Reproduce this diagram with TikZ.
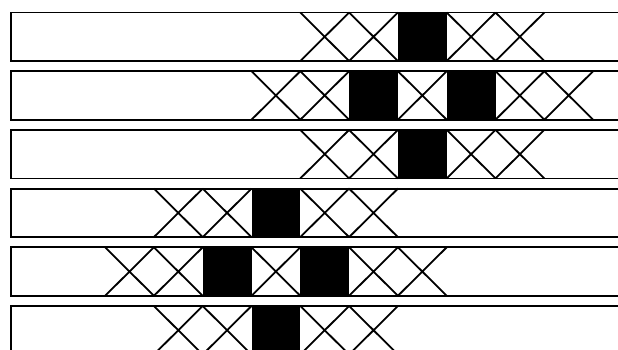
\documentclass[tikz,border=0pt]{standalone}

\tikzset{
  bar/.style={draw=black,line width=1.8pt},
  xcross/.style={draw=black,line width=1.8pt},
  blackcell/.style={fill=black}
}

\begin{document}
\begin{tikzpicture}[x=1pt,y=-1pt,line join=miter]
  \useasboundingbox (0,0) rectangle (618,349);
  \clip (0,0) rectangle (618,349);
  % cell 48.8 wide, bars 48.5 high and 58.7 apart
  \foreach \r/\c in {0/8,1/7,1/9,2/8,3/5,4/4,4/6,5/5}
    \fill[blackcell] (7.5+48.8*\c,12.5+58.7*\r) rectangle ++(48.8,48.5);

  \foreach \r/\c in {0/6,0/7,0/9,0/10,
                     1/5,1/6,1/8,1/10,1/11,
                     2/6,2/7,2/9,2/10,
                     3/3,3/4,3/6,3/7,
                     4/2,4/3,4/5,4/7,4/8,
                     5/3,5/4,5/6,5/7}
    \draw[xcross] (7.5+48.8*\c,12.5+58.7*\r) -- ++(48.8,48.5)
                  (56.3+48.8*\c,12.5+58.7*\r) -- ++(-48.8,48.5);

  \foreach \r in {0,...,5}
    \draw[bar] (11,12.5+58.7*\r) rectangle ++(700,48.5);
\end{tikzpicture}
\end{document}
